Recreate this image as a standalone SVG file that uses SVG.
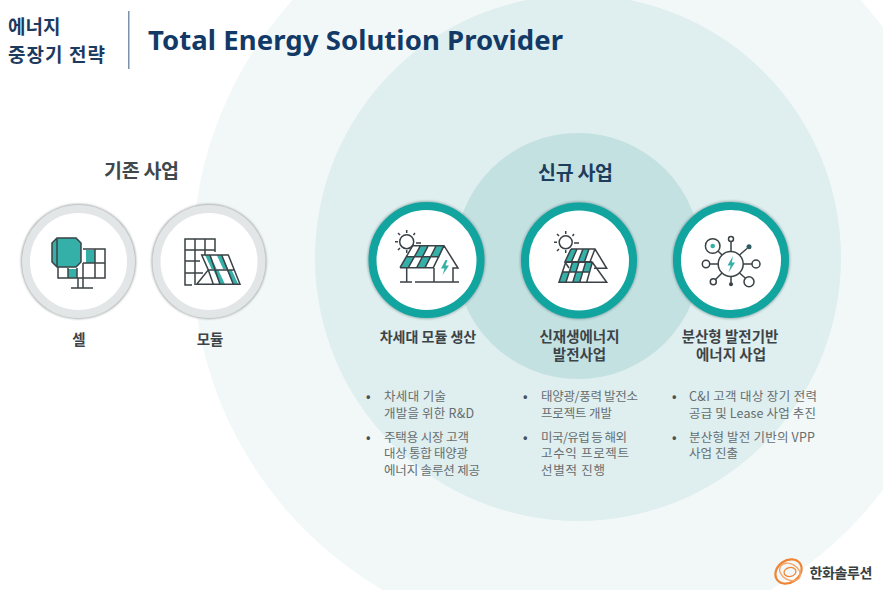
<svg xmlns="http://www.w3.org/2000/svg" width="883" height="590" viewBox="0 0 883 590">
<style>
text{font-family:"Noto Sans CJK KR","Noto Sans",sans-serif}
.h{font-size:19.500px;font-weight:700}
.l{font-size:14.500px;font-weight:700;fill:#3c4448;text-anchor:middle}
.b{font-size:12.500px;fill:#666d70}
.d{font-size:12px;fill:#4a5256;font-weight:700}
.i{fill:none;stroke:#3a4246;stroke-width:1.5}
.f{fill:#36b0a8}
.grey{fill:#fff;stroke:#e3e6e7;stroke-width:8}
.teal{fill:#fff;stroke:#12a5a0;stroke-width:8}
.gs{fill:#a9adad}
.ts{fill:#5f8585;opacity:.55}
</style>
<defs>
<filter id="s" x="-20%" y="-20%" width="140%" height="140%"><feGaussianBlur stdDeviation="1"/></filter>
<filter id="soft" x="-5%" y="-5%" width="110%" height="110%"><feGaussianBlur stdDeviation="0.3"/></filter>
</defs>
<rect width="883" height="590" fill="#fff"/>
<g id="backdrop">
<circle cx="576.500" cy="258.500" r="384" fill="#f2f8f8"/>
<circle cx="578" cy="258" r="263" fill="#dfeeee"/>
<circle cx="578" cy="256" r="123" fill="#c4e1e2"/>
</g>
<g id="header">
<text x="8" y="34" font-size="19" font-weight="700" fill="#1d3a5f">에너지</text>
<text x="8" y="62" font-size="19" font-weight="700" fill="#1d3a5f" textLength="97">중장기 전략</text>
<rect x="128" y="11" width="1.500" height="58" fill="#7d92ad"/>
<text x="148" y="50" font-size="27.500" font-weight="700" fill="#133a66" style="font-family:'Noto Sans',sans-serif" textLength="415">Total Energy Solution Provider</text>
</g>
<text class="h" x="104" y="178" fill="#40484c" textLength="75">기존 사업</text>
<text class="h" x="538" y="180" fill="#1d3d5c" textLength="75">신규 사업</text>
<g id="node-cell">
<circle class="gs" cx="78.500" cy="261.500" r="57.500" filter="url(#s)"/>
<circle class="grey" cx="78.500" cy="261.500" r="52.500"/>
<g filter="url(#soft)">
<rect class="f" x="86" y="250" width="9" height="13"/><rect class="f" x="68" y="269" width="9" height="9"/>
<path class="i" d="M83 249H105V278H58V267M83 263H105M95 249V278M83 263V278M68 268V278M77 268V278M78 278V288M83 278V288M71 288H93"/>
<path d="M57 238H76L81 243V262L76 267H57L52 262V243Z" fill="#36b0a8" stroke="#3a4246" stroke-width="1.500"/>
<path class="i" d="M57 239V266"/>
</g>
<text class="l" x="79" y="345">셀</text>
</g>
<g id="node-module">
<circle class="gs" cx="209" cy="261.500" r="57.500" filter="url(#s)"/>
<circle class="grey" cx="209" cy="261.500" r="52.500"/>
<g filter="url(#soft)">
<path class="i" d="M192 285H185V239H215V252M185 250H215M185 261H200M185 273H203M195 239V285M205 239V255"/>
<path class="f" d="M205 255H210L216.700 269.300H211.700ZM216.700 255H221.700L228.300 269.300H223.300ZM213.300 270H218.300L225 284.300H220ZM226.700 270H231.700L238.300 284.300H233.300Z"/>
<path class="i" d="M201.700 255H228.300L240 284.300H196.700L208.300 270L201.700 255ZM208 270H234M208.300 270L213.300 284.300M210 255L220 284.300M221.700 255L233.300 284.300"/>
</g>
<text class="l" x="210" y="345">모듈</text>
</g>
<g id="node-next-gen">
<circle class="ts" cx="426.500" cy="260" r="59" filter="url(#s)"/>
<circle class="teal" cx="426.500" cy="260" r="54"/>
<g filter="url(#soft)">
<circle class="i" cx="406.700" cy="241.700" r="7"/>
<path class="i" d="M395 241.700H398M406.700 230V233M398 233L400 235M415 233L413.500 235M398 250L400 248M406.700 250V253M416 243H421"/>
<path class="f" d="M420.500 245.700H428.300L423 256.700H415ZM436.200 245.700H444L439.500 256.700H431.200ZM406.500 256.700H414.800L408.300 267.700H400ZM423 256.700H431.300L425 267.700H416.700Z"/>
<path class="i" d="M412.700 245.700H444L458 268H453V282M400 267.700L412.700 245.700M400 267.700H433.300L444 245.700M406.500 256.700H439.500M420.500 245.700L408.300 267.700M428.300 245.700L416.700 267.700M436.200 245.700L425 267.700M434 268V282M406.700 268V282M400 282H412M415 282H459"/>
<path class="f" d="M445.500 260L441 268.500H444.500L442.500 275L449 265.500H445.500L447.500 260Z"/>
</g>
<text class="l" x="428" y="342" style="font-size:14px">차세대 모듈 생산</text>
</g>
<g id="node-renewable">
<circle class="ts" cx="579" cy="260.500" r="59" filter="url(#s)"/>
<circle class="teal" cx="579" cy="260.500" r="54"/>
<g filter="url(#soft)">
<circle class="i" cx="565.700" cy="242.300" r="6.500"/>
<path class="i" d="M554 242.300H557M565.700 231V234M557 234L559 236M574 234L572.500 236M557 251L559 249M565.700 250V253M574 243H579"/>
<path class="f" d="M571 249H577L571.500 261.700H565ZM583 249H589L584.500 261.700H578ZM572.400 262.300H579L575.700 272H569ZM585.600 262.300H592.300L589.100 272H582.400ZM562.300 272H569L565.900 282.300H559ZM575.700 272H582.400L579.700 282.300H572.800Z"/>
<path class="i" d="M571 249H595L606.700 268.300H594M571 249L565 261.700H592M577 249L571.500 261.700M583 249L578 261.700M589 249L584.500 261.700M595 249L590 261.700M565 262L569 268"/>
<path class="i" d="M565.700 262.300H592.300L586.700 282.300H559ZM592.300 262.300L606.700 282.300H586.700M562.300 272H589.100M572.400 262.300L565.900 282.300M579 262.300L572.800 282.300M585.600 262.300L579.700 282.300"/>
</g>
<text class="l" x="579.500" y="342">신재생에너지<tspan x="579.500" y="360">발전사업</tspan></text>
</g>
<g id="node-distributed">
<circle class="ts" cx="731" cy="260" r="59" filter="url(#s)"/>
<circle class="teal" cx="731" cy="260" r="54"/>
<g filter="url(#soft)">
<circle class="i" cx="730.700" cy="264" r="12.500"/>
<circle class="i" cx="712.700" cy="246" r="7.300"/><circle class="f" cx="712.700" cy="246" r="2.300"/>
<circle class="i" cx="731" cy="239" r="2.500"/>
<circle cx="749" cy="246.700" r="2.500" fill="#2f5f60"/>
<circle class="i" cx="706" cy="264" r="3.700"/>
<circle class="i" cx="756" cy="264" r="4"/>
<circle class="i" cx="713.300" cy="281.700" r="3"/>
<circle cx="731" cy="284.300" r="2" fill="#3a4246"/>
<circle class="i" cx="749" cy="281.700" r="5"/>
<path class="i" d="M722 255L718 251M731 251.500V241.500M739.500 255L747 248.500M718.200 264H709.700M743.200 264H752M722 273L715.500 279.500M731 276.500V283M739.500 273L745.500 278.200"/>
<path class="f" d="M733 256L727.500 265.500H730.700L728.500 272.500L735 262.500H731.800Z"/>
</g>
<text class="l" x="730" y="342">분산형 발전기반<tspan x="731" y="360">에너지 사업</tspan></text>
</g>
<g id="text-next-gen">
<text class="d" x="366" y="401">•</text>
<text class="b"><tspan x="384" y="401" textLength="62">차세대 기술</tspan><tspan x="384" y="418" textLength="90">개발을 위한 R&amp;D</tspan></text>
<text class="d" x="366" y="442">•</text>
<text class="b"><tspan x="384" y="442" textLength="85">주택용 시장 고객</tspan><tspan x="384" y="458" textLength="84">대상 통합 태양광</tspan><tspan x="384" y="475" textLength="96">에너지 솔루션 제공</tspan></text>
</g>
<g id="text-renewable">
<text class="d" x="523" y="401">•</text>
<text class="b"><tspan x="541" y="401" textLength="97">태양광/풍력 발전소</tspan><tspan x="541" y="418" textLength="71">프로젝트 개발</tspan></text>
<text class="d" x="523" y="442">•</text>
<text class="b"><tspan x="541" y="442" textLength="86">미국/유럽 등 해외</tspan><tspan x="541" y="458" textLength="88">고수익 프로젝트</tspan><tspan x="541" y="475" textLength="64">선별적 진행</tspan></text>
</g>
<g id="text-distributed">
<text class="d" x="672" y="401">•</text>
<text class="b"><tspan x="689" y="401" textLength="128">C&amp;I 고객 대상 장기 전력</tspan><tspan x="689" y="418" textLength="127">공급 및 Lease 사업 추진</tspan></text>
<text class="d" x="672" y="442">•</text>
<text class="b"><tspan x="689" y="442" textLength="126">분산형 발전 기반의 VPP</tspan><tspan x="689" y="458" textLength="49">사업 진출</tspan></text>
</g>
<g id="logo">
<g fill="none" stroke="#ee8434">
<ellipse cx="788.500" cy="571.500" rx="14" ry="11" stroke-width="2.200" transform="rotate(-35 788.500 571.500)"/>
<ellipse cx="790" cy="572" rx="11" ry="8" stroke-width="1.400" stroke="#f4a66a" transform="rotate(30 790 572)"/>
<ellipse cx="790" cy="572" rx="6" ry="4.500" stroke-width="1.200" transform="rotate(-10 790 572)"/>
</g>
<text x="809.500" y="578" font-size="14" font-weight="700" fill="#3a3f42" textLength="63">한화솔루션</text>
</g>
</svg>
